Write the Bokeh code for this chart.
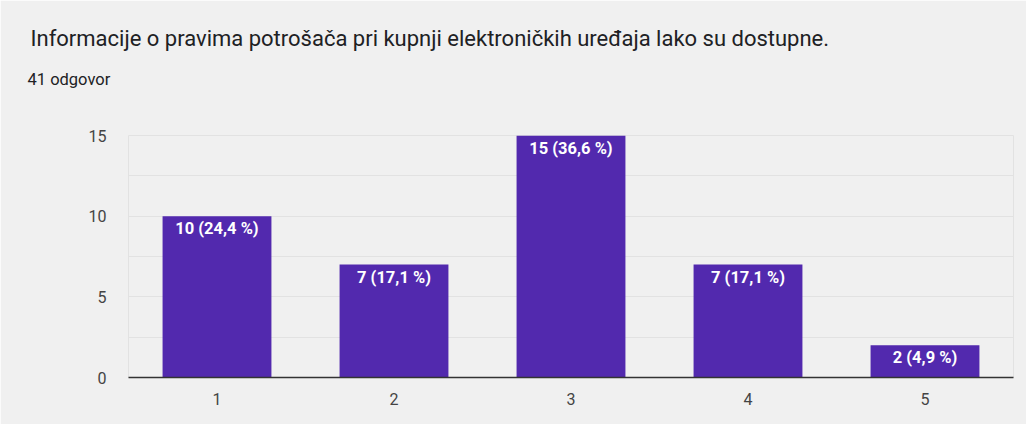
from bokeh.plotting import figure
from bokeh.models import ColumnDataSource, LabelSet, FixedTicker, Title
from bokeh.core.properties import value
from bokeh.embed import file_html
from bokeh.resources import INLINE

categories = ["1", "2", "3", "4", "5"]
counts = [10, 7, 15, 7, 2]
percents = ["24,4", "17,1", "36,6", "17,1", "4,9"]
y_ticks = [0, 5, 10, 15]
y_minor = [2.5, 7.5, 12.5]
title_text = "Informacije o pravima potrošača pri kupnji elektroničkih uređaja lako su dostupne."
subtitle_text = "41 odgovor"

labels = [f"{c} ({p} %)" for c, p in zip(counts, percents)]
src = ColumnDataSource(dict(cat=categories, n=counts, lab=labels))

BG = "#f0f0f0"
p = figure(x_range=categories, y_range=(0, 15), width=1026, height=424,
           output_backend="svg", toolbar_location=None, title=None,
           background_fill_color=BG, border_fill_color=BG,
           min_border_left=128, min_border_right=13, min_border_top=135,
           min_border_bottom=47)

spacer = Title(text=" ", align="left", text_font_size="1px", standoff=44)
p.add_layout(spacer, "above")
sub = Title(text=subtitle_text, align="left", offset=-101, text_font="Roboto",
            text_font_size="16.5px", text_font_style="normal", text_color="#202124",
            standoff=0)
p.add_layout(sub, "above")
ttl = Title(text=title_text, align="left", offset=-98, text_font="Roboto",
            text_font_size="22px", text_font_style="normal", text_color="#202124",
            standoff=34)
p.add_layout(ttl, "above")

p.vbar(x="cat", top="n", width=0.615, source=src, fill_color="#5229ae",
       line_color=None)

ls = LabelSet(x="cat", y="n", text="lab", source=src, text_align="center",
              text_baseline="top", y_offset=-3, text_color="white",
              text_font=value("Roboto"), text_font_size="16.5px",
              text_font_style="bold")
p.add_layout(ls)

p.yaxis.ticker = FixedTicker(ticks=y_ticks, minor_ticks=y_minor)
p.yaxis.axis_line_color = None
p.yaxis.major_tick_line_color = None
p.yaxis.minor_tick_line_color = None
p.yaxis.major_label_standoff = 16
p.yaxis.major_label_text_font = "Roboto"
p.yaxis.major_label_text_font_size = "16px"
p.yaxis.major_label_text_color = "#444444"

p.xaxis.axis_line_color = "#333333"
p.xaxis.axis_line_width = 1.5
p.xaxis.major_tick_line_color = None
p.xaxis.minor_tick_line_color = None
p.xaxis.major_label_standoff = 9
p.xaxis.major_label_text_font = "Roboto"
p.xaxis.major_label_text_font_size = "16px"
p.xaxis.major_label_text_color = "#444444"

p.xgrid.grid_line_color = None
p.ygrid.grid_line_color = "#e2e2e2"
p.ygrid.minor_grid_line_color = "#e2e2e2"
p.outline_line_color = "#e2e2e2"

open("out.html", "w").write(file_html(p, INLINE))
